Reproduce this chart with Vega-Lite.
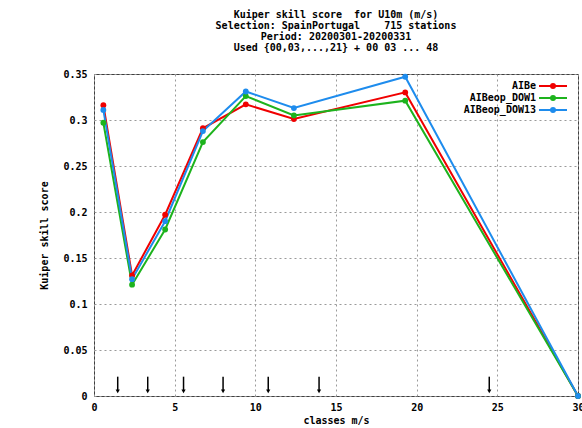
{
  "$schema": "https://vega.github.io/schema/vega-lite/v6.json",
  "width": 484,
  "height": 322,
  "autosize": {"type": "none"},
  "padding": {"left": 94, "top": 74, "right": 4, "bottom": 32},
  "background": "white",
  "config": {
    "font": "DejaVu Sans Mono",
    "view": {"stroke": "#404040", "strokeWidth": 1},
    "axis": {
      "labelFont": "DejaVu Sans Mono", "labelFontSize": 10, "labelFontWeight": "bold", "labelColor": "black",
      "titleFont": "DejaVu Sans Mono", "titleFontSize": 10, "titleFontWeight": "bold", "titleColor": "black",
      "domain": false, "ticks": false, "grid": true, "gridDash": [2, 3], "gridColor": "#9a9a9a", "gridWidth": 1
    },
    "legend": {
      "labelFont": "DejaVu Sans Mono", "labelFontSize": 10, "labelFontWeight": "bold", "labelColor": "black"
    }
  },
  "title": {
    "text": ["Kuiper skill score\u00a0 for U10m (m/s)", "Selection: SpainPortugal\u00a0\u00a0\u00a0 715 stations", "Period: 20200301-20200331", "Used {00,03,...,21} + 00 03 ... 48"],
    "anchor": "middle",
    "font": "DejaVu Sans Mono",
    "fontSize": 10,
    "fontWeight": "bold",
    "lineHeight": 11,
    "offset": 16,
    "color": "black"
  },
  "datasets": {
    "arrows": [
      {"x": 1.47}, {"x": 3.33}, {"x": 5.55}, {"x": 8.0}, {"x": 10.8}, {"x": 13.95}, {"x": 24.5}
    ],
    "scores": [
      {"series": "AIBe", "x": 0.58, "y": 0.316},
      {"series": "AIBe", "x": 2.36, "y": 0.131},
      {"series": "AIBe", "x": 4.41, "y": 0.197},
      {"series": "AIBe", "x": 6.75, "y": 0.291},
      {"series": "AIBe", "x": 9.41, "y": 0.317},
      {"series": "AIBe", "x": 12.39, "y": 0.301},
      {"series": "AIBe", "x": 19.29, "y": 0.330},
      {"series": "AIBe", "x": 30, "y": 0.0},
      {"series": "AIBeop_DOW1", "x": 0.58, "y": 0.297},
      {"series": "AIBeop_DOW1", "x": 2.36, "y": 0.121},
      {"series": "AIBeop_DOW1", "x": 4.41, "y": 0.181},
      {"series": "AIBeop_DOW1", "x": 6.75, "y": 0.276},
      {"series": "AIBeop_DOW1", "x": 9.41, "y": 0.326},
      {"series": "AIBeop_DOW1", "x": 12.39, "y": 0.305},
      {"series": "AIBeop_DOW1", "x": 19.29, "y": 0.321},
      {"series": "AIBeop_DOW1", "x": 30, "y": 0.0},
      {"series": "AIBeop_DOW13", "x": 0.58, "y": 0.311},
      {"series": "AIBeop_DOW13", "x": 2.36, "y": 0.127},
      {"series": "AIBeop_DOW13", "x": 4.41, "y": 0.190},
      {"series": "AIBeop_DOW13", "x": 6.75, "y": 0.288},
      {"series": "AIBeop_DOW13", "x": 9.41, "y": 0.331},
      {"series": "AIBeop_DOW13", "x": 12.39, "y": 0.313},
      {"series": "AIBeop_DOW13", "x": 19.29, "y": 0.347},
      {"series": "AIBeop_DOW13", "x": 30, "y": 0.0}
    ]
  },
  "encoding": {
    "x": {
      "field": "x", "type": "quantitative",
      "scale": {"domain": [0, 30], "nice": false, "zero": false},
      "axis": {"title": "classes m/s", "values": [0, 5, 10, 15, 20, 25, 30], "labelPadding": 6, "titlePadding": 3, "labelFlush": false}
    }
  },
  "layer": [
    {
      "data": {"name": "arrows"},
      "mark": {"type": "rule", "color": "black", "strokeWidth": 1.5},
      "encoding": {
        "y": {"datum": 0.021, "type": "quantitative", "scale": {"domain": [0, 0.35], "nice": false, "zero": true},
              "axis": {"title": "Kuiper skill score", "values": [0, 0.05, 0.1, 0.15, 0.2, 0.25, 0.3, 0.35], "format": ".2~f", "labelPadding": 7, "titlePadding": 13}},
        "y2": {"datum": 0.006}
      }
    },
    {
      "data": {"name": "arrows"},
      "mark": {"type": "point", "shape": "triangle-down", "filled": true, "color": "black", "size": 18, "opacity": 1},
      "encoding": {"y": {"datum": 0.005, "type": "quantitative"}}
    },
    {
      "data": {"name": "scores"},
      "mark": {"type": "line", "strokeWidth": 2, "point": {"filled": true, "size": 34, "opacity": 1}},
      "encoding": {
        "y": {"field": "y", "type": "quantitative"},
        "color": {
          "field": "series", "type": "nominal",
          "scale": {"domain": ["AIBe", "AIBeop_DOW1", "AIBeop_DOW13"], "range": ["#f00000", "#1db31d", "#1e8ced"]},
          "legend": {"title": null, "orient": "top-right", "offset": 7, "padding": 0, "rowPadding": 0, "symbolType": "M-3.5,0H3.5M0.5,0A0.5,0.5 0 1,1 -0.5,0A0.5,0.5 0 1,1 0.5,0", "symbolStrokeWidth": 2, "symbolSize": 64, "labelLimit": 200, "labelAlign": "right", "labelOffset": -22}
        }
      }
    }
  ]
}
